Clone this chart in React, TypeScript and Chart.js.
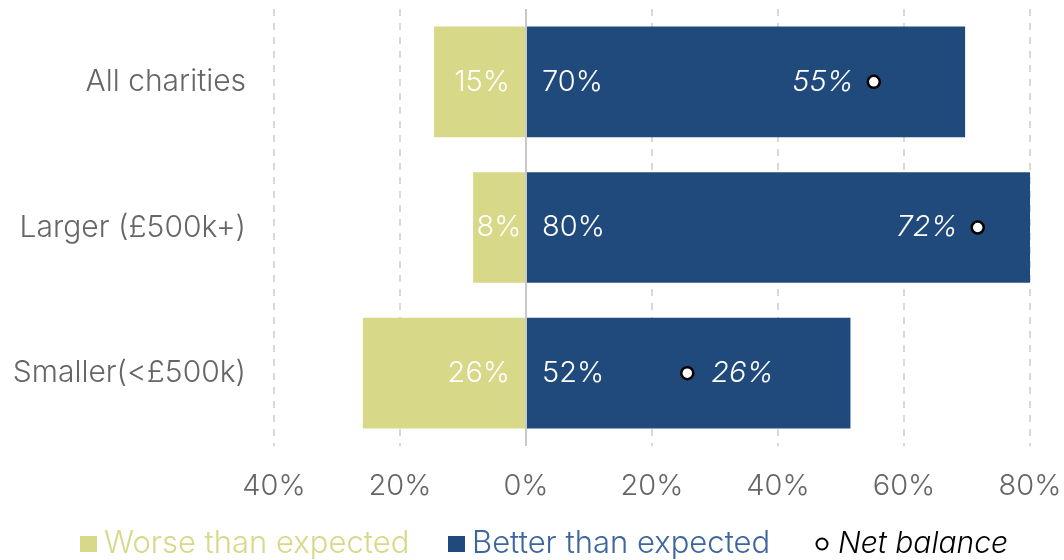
import React, { useEffect, useRef } from "react";
import { Chart, registerables } from "chart.js";

Chart.register(...registerables);

const categories = ["All charities", "Larger (£500k+)", "Smaller(<£500k)"];
const worseValues = [-14.6, -8.4, -25.9];
const betterValues = [69.7, 80, 51.5];
const netValues = [55.2, 71.7, 25.6];
const netLabelSide = ["left", "left", "right"];
const seriesNames = ["Worse than expected", "Better than expected", "Net balance"];
const xMin = -40;
const xMax = 80;
const xStep = 20;

const WORSE = "#D8D889";
const BETTER = "#214A7C";
const BETTER_TEXT = "#3D679C";
const FONT = "Inter, 'Open Sans', sans-serif";

const pct = (v: number) => Math.round(Math.abs(v)) + "%";

const labelsPlugin = {
  id: "barLabels",
  afterDatasetsDraw(chart: any) {
    const ctx = chart.ctx;
    ctx.save();
    ctx.font = `300 29px ${FONT}`;
    ctx.fillStyle = "#ffffff";
    ctx.textBaseline = "middle";
    const m0 = chart.getDatasetMeta(0);
    m0.data.forEach((el: any, i: number) => {
      const txt = pct(worseValues[i]);
      const left = Math.min(el.x, el.base);
      const right = Math.max(el.x, el.base);
      const w = ctx.measureText(txt).width;
      if (w + 30 > right - left) {
        ctx.textAlign = "center";
        ctx.fillText(txt, (left + right) / 2, el.y);
      } else {
        ctx.textAlign = "right";
        ctx.fillText(txt, right - 15, el.y);
      }
    });
    const m1 = chart.getDatasetMeta(1);
    m1.data.forEach((el: any, i: number) => {
      const txt = pct(betterValues[i]);
      const left = Math.min(el.x, el.base);
      ctx.textAlign = "left";
      ctx.fillText(txt, left + 15, el.y);
    });
    ctx.font = `italic 300 29px ${FONT}`;
    const m2 = chart.getDatasetMeta(2);
    m2.data.forEach((el: any, i: number) => {
      const txt = pct(netValues[i]);
      if (netLabelSide[i] === "left") {
        ctx.textAlign = "right";
        ctx.fillText(txt, el.x - 20, el.y);
      } else {
        ctx.textAlign = "left";
        ctx.fillText(txt, el.x + 24, el.y);
      }
    });
    ctx.restore();
  },
};

const legendPlugin = {
  id: "customLegend",
  afterDraw(chart: any) {
    const ctx = chart.ctx;
    ctx.save();
    const y = 544;
    const itemX = [80, 448, 815];
    ctx.textBaseline = "middle";
    ctx.textAlign = "left";
    ctx.font = `300 31px ${FONT}`;
    ctx.fillStyle = WORSE;
    ctx.fillRect(itemX[0], y - 8, 17, 16);
    ctx.fillText(seriesNames[0], itemX[0] + 24, y);
    ctx.fillStyle = BETTER;
    ctx.fillRect(itemX[1], y - 8, 17, 16);
    ctx.fillStyle = BETTER_TEXT;
    ctx.fillText(seriesNames[1], itemX[1] + 24, y);
    ctx.beginPath();
    ctx.arc(itemX[2] + 7, y, 5.5, 0, Math.PI * 2);
    ctx.fillStyle = "#ffffff";
    ctx.fill();
    ctx.lineWidth = 2;
    ctx.strokeStyle = "#000000";
    ctx.stroke();
    ctx.font = `italic 300 30px ${FONT}`;
    ctx.fillStyle = "#000000";
    ctx.fillText(seriesNames[2], itemX[2] + 23, y);
    ctx.restore();
  },
};

export default function App() {
  const ref = useRef<HTMLCanvasElement>(null);
  useEffect(() => {
    const chart = new Chart(ref.current as HTMLCanvasElement, {
      type: "bar",
      data: {
        labels: categories,
        datasets: [
          {
            label: seriesNames[0],
            data: worseValues,
            backgroundColor: WORSE,
            stack: "s",
            order: 1,
            barPercentage: 0.76,
            categoryPercentage: 1,
          },
          {
            label: seriesNames[1],
            data: betterValues,
            backgroundColor: BETTER,
            stack: "s",
            order: 1,
            barPercentage: 0.76,
            categoryPercentage: 1,
          },
          {
            type: "line",
            label: seriesNames[2],
            data: netValues,
            showLine: false,
            stack: "net",
            order: 0,
            pointRadius: 6,
            pointBorderWidth: 2.5,
            pointBackgroundColor: "#ffffff",
            pointBorderColor: "#000000",
          } as any,
        ],
      },
      options: {
        indexAxis: "y",
        animation: false,
        responsive: false,
        layout: { padding: { top: 9, right: 34, left: 0, bottom: 0 } },
        plugins: { legend: { display: false }, tooltip: { enabled: false } },
        scales: {
          x: {
            stacked: true,
            min: xMin,
            max: xMax,
            ticks: {
              stepSize: xStep,
              padding: 23,
              color: "#666666",
              font: { family: FONT, size: 29, weight: 300 as any },
              callback: (v: any) => Math.abs(Number(v)) + "%",
            },
            grid: {
              drawTicks: false,
              lineWidth: 2,
              color: (c: any) => (c.tick && c.tick.value === 0 ? "#C8C8C8" : "#D9D9D9"),
            },
            border: { display: false, dash: (c: any) => (c.tick && c.tick.value === 0 ? [] : [7, 7]) } as any,
            afterFit: (s: any) => {
              s.height = 114;
              s.paddingLeft = 0;
              s.paddingRight = 0;
            },
          },
          y: {
            stacked: true,
            grid: { display: false, drawTicks: false },
            border: { display: false },
            ticks: {
              padding: 28,
              color: "#666666",
              font: { family: FONT, size: 30, weight: 300 as any },
            },
            afterFit: (s: any) => {
              s.width = 274;
              s.paddingTop = 0;
              s.paddingBottom = 0;
            },
          },
        },
      },
      plugins: [labelsPlugin, legendPlugin],
    });
    return () => chart.destroy();
  }, []);
  return (
    <div style={{ position: "absolute", left: 0, top: 0, width: 1064, height: 560, background: "#fff" }}>
      <canvas ref={ref} width={1064} height={560} />
    </div>
  );
}
